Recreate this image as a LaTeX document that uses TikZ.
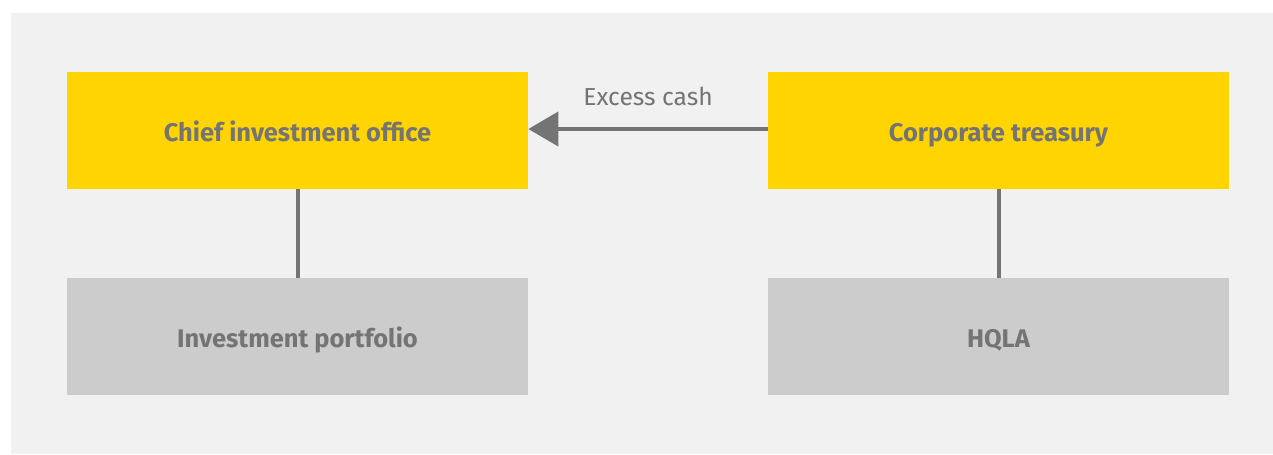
\documentclass[tikz,border=0pt]{standalone}
\usepackage{fontspec}
\setmainfont{Fira Sans}
\usetikzlibrary{arrows.meta, positioning}

\definecolor{eyyellow}{HTML}{FFD400}
\definecolor{eygrey}{HTML}{747474}
\definecolor{boxgrey}{HTML}{CCCCCC}
\definecolor{bggrey}{HTML}{F1F1F1}

\begin{document}
\begin{tikzpicture}[
    x=0.02cm, y=-0.02cm,
    font=\fontsize{14}{16}\selectfont,
    unitbox/.style={
        minimum width=9.22cm,
        minimum height=2.34cm,
        inner sep=0pt,
        text height=0.42cm,
        text depth=0cm,
        text=eygrey,
        font=\fontsize{14.5}{16}\selectfont\bfseries
    },
    topbox/.style={unitbox, fill=eyyellow},
    lowbox/.style={unitbox, fill=boxgrey},
    link/.style={draw=eygrey, line width=0.08cm},
    flow/.style={link, -{Triangle[length=0.6cm, width=0.68cm]}}
]
    % --- canvas ---
    \useasboundingbox (0,0) rectangle (1273,454);
    \fill[bggrey] (11,13) rectangle (1273,454);

    % --- the four units ---
    \node[topbox] (cio) at (297.5,130.5) {Chief investment office};
    \node[topbox] (treasury) at (998.5,130.5) {Corporate treasury};
    \node[lowbox] (portfolio) at (297.5,336.5) {Investment portfolio};
    \node[lowbox] (hqla) at (998.5,336.5) {HQLA};

    % --- connectors ---
    \draw[link] (cio) -- (portfolio);
    \draw[link] (treasury) -- (hqla);
    \draw[flow] ([yshift=0.03cm]treasury.west) -- ([yshift=0.03cm]cio.east)
        node[midway, above=0.3cm, text=eygrey] {Excess cash};
\end{tikzpicture}
\end{document}
